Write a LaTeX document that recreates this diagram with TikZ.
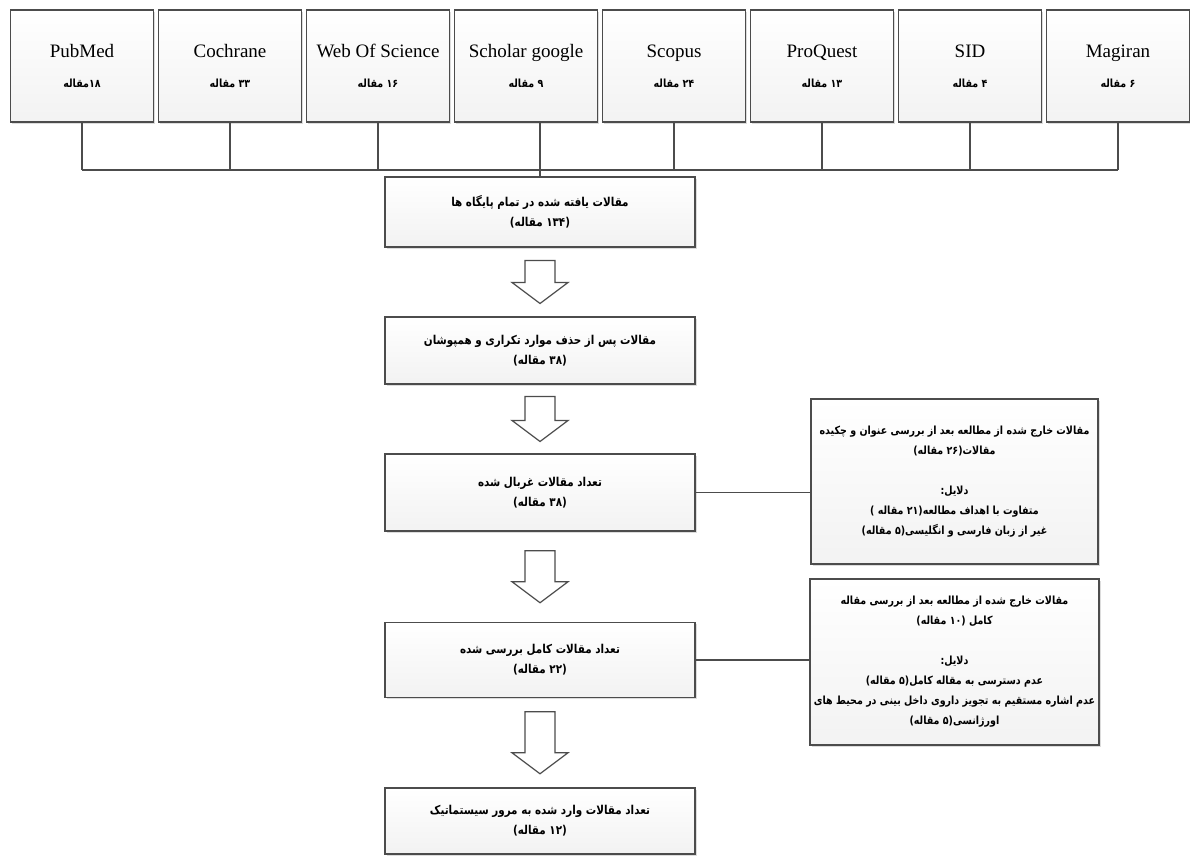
\documentclass[tikz,border=0pt]{standalone}
\usepackage{fontspec}
\setmainfont{Liberation Serif}
\newfontfamily\persfont[Script=Arabic, FakeStretch=0.85]{DejaVu Sans}
\TeXXeTstate=1
\usetikzlibrary{calc,shadows}
\newcommand{\fatxt}[1]{{\persfont\bfseries\beginR #1\endR}}
\tikzset{
    box/.style={draw=gray!60!black, line width=0.8pt, top color=white, bottom color=gray!10, drop shadow={shadow xshift=0.8pt, shadow yshift=-0.8pt, fill=gray!55}, align=center, inner sep=2pt},
    dbbox/.style={box, minimum width=71.5pt, minimum height=56pt, font=\fontsize{9.5}{15}\selectfont},
    flowbox/.style={box, minimum width=155pt, font=\fontsize{6.1}{10}\selectfont},
    sidebox/.style={box, minimum width=143.5pt, font=\fontsize{5.6}{10}\selectfont},
    link/.style={draw=gray!60!black, line width=0.8pt},
    hollow/.style={draw=gray!60!black, line width=0.6pt, fill=white}
}
\begin{document}
\begin{tikzpicture}[x=0.5pt, y=-0.5pt]
    \useasboundingbox (0,0) rectangle (1190,856);

    \foreach \i/\t/\u in {0/PubMed/۱۸مقاله,1/Cochrane/۳۳ مقاله,2/Web Of Science/۱۶ مقاله,3/Scholar google/۹ مقاله,4/Scopus/۲۴ مقاله,5/ProQuest/۱۳ مقاله,6/SID/۴ مقاله,7/Magiran/۶ مقاله} {
      \node[dbbox] (db\i) at ({82+148*\i},66) {\t\\{\fontsize{5.6}{8}\selectfont\fatxt{\u}}};
    }
    \coordinate (bus) at (0,170);

    \node[flowbox, minimum height=35pt] (f1) at (540,212) {\fatxt{مقالات یافته شده در تمام پایگاه ها}\\ \fatxt{(۱۳۴ مقاله)}};
    \node[flowbox, minimum height=33.5pt] (f2) at (540,350.5) {\fatxt{مقالات پس از حذف موارد تکراری و همپوشان}\\ \fatxt{(۳۸ مقاله)}};
    \node[flowbox, minimum height=38.5pt] (f3) at (540,492.5) {\fatxt{تعداد مقالات غربال شده}\\ \fatxt{(۳۸ مقاله)}};
    \node[flowbox, minimum height=37.5pt] (f4) at (540,660) {\fatxt{تعداد مقالات کامل بررسی شده}\\ \fatxt{(۲۲ مقاله)}};
    \node[flowbox, minimum height=33pt] (f5) at (540,821) {\fatxt{تعداد مقالات وارد شده به مرور سیستماتیک}\\ \fatxt{(۱۲ مقاله)}};

    \node[sidebox, minimum height=82.5pt] (s1) at (954.5,481.5) {\fatxt{مقالات خارج شده از مطالعه بعد از بررسی عنوان و چکیده}\\ \fatxt{مقالات(۲۶ مقاله)}\\[10pt] \fatxt{دلایل:}\\ \fatxt{متفاوت با اهداف مطالعه(۲۱ مقاله )}\\ \fatxt{غیر از زبان فارسی و انگلیسی(۵ مقاله)}};
    \node[sidebox, minimum height=83pt] (s2) at (954.5,662) {\fatxt{مقالات خارج شده از مطالعه بعد از بررسی مقاله}\\ \fatxt{کامل (۱۰ مقاله)}\\[10pt] \fatxt{دلایل:}\\ \fatxt{عدم دسترسی به مقاله کامل(۵ مقاله)}\\ \fatxt{عدم اشاره مستقیم به تجویز داروی داخل بینی در محیط های}\\ \fatxt{اورژانسی(۵ مقاله)}};

    \foreach \i in {0,1,2,4,5,6,7} {
      \draw[link] (db\i.south) -- (db\i.south |- bus);
    }
    \draw[link] (db0.south |- bus) -- (db7.south |- bus);
    \draw[link] (f1.north) -- (f1.north |- db3.south);

    \foreach \a/\b/\l in {1/2/43,2/3/45,3/4/52,4/5/62} {
      \coordinate (m\a) at ($(f\a.south)!0.5!(f\b.north)$);
      \draw[hollow] (m\a) ++(-15,{-\l/2}) -- ++(30,0) -- ++(0,{\l-21}) -- ++(13,0) -- ++(-28,21) -- ++(-28,-21) -- ++(13,0) -- cycle;
    }

    \draw[link] (f3.east) -- (f3.east -| s1.west);
    \draw[link] (f4.east) -- (f4.east -| s2.west);
\end{tikzpicture}
\end{document}
